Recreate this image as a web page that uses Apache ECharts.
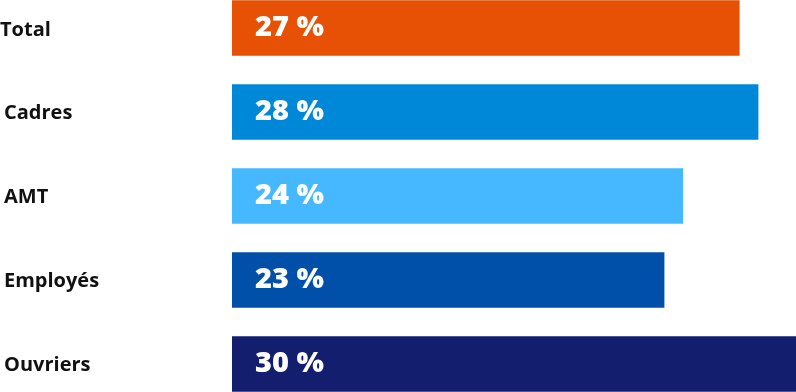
<!DOCTYPE html>
<html><head><meta charset="utf-8">
<script src="https://cdn.jsdelivr.net/npm/echarts@6/dist/echarts.min.js"></script>
<style>html,body{margin:0;padding:0;background:#fff}#c{width:796px;height:392px}</style>
</head><body><div id="c"></div>
<script>
const categories = ["Total", "Cadres", "AMT", "Employés", "Ouvriers"];
const values = [27, 28, 24, 23, 30];
const colors = ["#E65105", "#0088D8", "#45B8FF", "#0050AA", "#131E6E"];

const chart = echarts.init(document.getElementById('c'), null, {renderer: 'canvas'});
chart.setOption({
  animation: false,
  grid: {left: 232, right: 0, top: -14, bottom: -14, containLabel: false, outerBoundsMode: 'none'},
  xAxis: {type: 'value', min: 0, max: 30, show: false},
  yAxis: {
    type: 'category', data: categories, inverse: true,
    axisLine: {show: false}, axisTick: {show: false}, splitLine: {show: false},
    axisLabel: {
      align: 'left', margin: 232,
      formatter: (v) => v === 'Total' ? '{t|' + v + '}' : '{o|' + v + '}',
      rich: {
        t: {fontFamily: 'Open Sans', fontWeight: 'bold', fontSize: 20, color: '#111', padding: [5, 0, 0, 0]},
        o: {fontFamily: 'Open Sans', fontWeight: 'bold', fontSize: 20, color: '#111', padding: [3, 0, 0, 4]}
      }
    }
  },
  series: [{
    type: 'bar',
    barCategoryGap: '33.7%',
    data: values.map((v, i) => ({value: v, itemStyle: {color: colors[i]}})),
    label: {
      show: true, position: 'insideLeft', distance: 23,
      formatter: (p) => p.value + ' %',
      color: '#fff', fontFamily: 'Open Sans', fontWeight: 800, fontSize: 29
    }
  }]
});
</script></body></html>
